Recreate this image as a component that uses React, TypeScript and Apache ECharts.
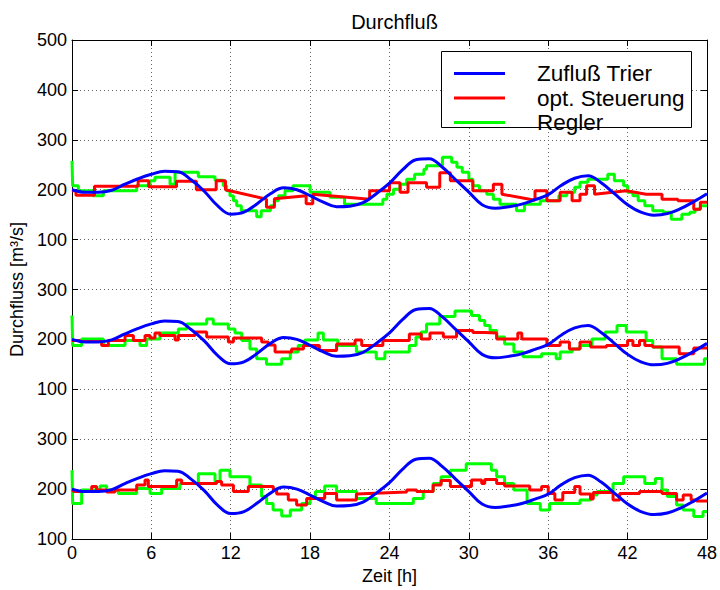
import React, { useEffect, useRef } from 'react';
import * as echarts from 'echarts';

// ---- data ----
const HOURS = [0,1,2,3,4,5,6,7,8,9,10,11,12,13,14,15,16,17,18,19,20,21,22,23,24,25,26,27,28,29,30,31,32,33,34,35,36,37,38,39,40,41,42,43,44,45,46,47,48];
// Zufluß Trier (hourly, m³/s) – same curve in all three panels
const ZUFLUSS = [200,195,195,199,211,222,231,237,236,220,197,168,151,155,172,192,204,200,188,175,166,167,174,192,213,240,260,262,245,220,195,170,163,166,171,180,190,209,223,228,214,192,170,155,149,152,162,176,192];

// step series: [start hour, value, optional end value (sloped segment)]
const RED_TOP = [[0,198],[0.3,189],[1.7,207],[5.0,218],[5.8,206],[7.9,217],[9.4,200],[10.9,218],[11.6,200,181],[14.7,165],[15.3,182,188],[17.7,172],[18.2,191,181],[22.5,198],[24.0,214],[24.8,195],[25.4,214],[26.8,205],[27.8,234],[28.6,218],[30.3,198],[31.85,211],[32.5,191,179],[35.0,198],[35.9,178],[36.9,195],[37.8,178],[38.4,191],[38.9,208],[39.5,191,198],[41.9,198,191],[43.4,191],[44.6,181],[45.8,178],[47.0,161],[47.5,175]];
const GREEN_TOP = [[0,258],[0.05,208],[0.48,198],[1.61,188],[2.37,198],[4.89,208],[5.9,218],[6.27,225],[7.41,211],[7.79,235],[9.55,226],[10.81,219],[11.44,208],[11.69,198],[11.94,188],[12.2,178],[12.45,168],[12.8,158],[13.96,146],[14.3,158],[15.0,168],[15.3,178],[15.6,188],[16.1,198],[16.7,208],[18.0,195],[19.5,185],[20.6,171],[23.5,181],[23.8,191],[24.3,201],[24.8,211],[25.3,221],[25.9,231],[26.6,241],[26.8,248],[28.0,265],[28.7,255],[29.1,245],[29.5,235],[30.0,221],[30.3,208],[30.8,198],[31.35,191],[31.85,181],[32.35,171],[33.6,158],[34.2,171],[35.4,178],[36.8,188],[37.4,195],[38.0,205],[38.4,215],[39.0,221],[40.5,231],[41.0,218],[41.7,208],[42.0,195],[42.4,188],[42.8,178],[43.3,168],[43.9,158],[44.7,155],[45.3,141],[46.1,151],[46.7,155],[47.1,161],[47.5,168]];

const RED_MID = [[0,198],[0.6,196],[2.24,188],[2.75,198],[4.01,208],[4.64,198],[5.52,208],[5.9,203],[6.27,213],[6.65,208],[7.79,199],[8.04,208],[9.3,215],[10.18,205],[11.82,195],[12.2,203],[14.34,195],[14.84,189],[15.35,175],[16.6,181],[17.5,188],[18.7,178],[20.0,191],[21.4,199],[21.9,188],[23.5,198],[25.5,211],[26.4,201],[27.06,213],[28.07,205],[29.07,218],[30.3,214],[31.2,213],[32.1,201],[33.7,213],[34.0,201],[35.9,188],[36.9,195],[37.6,181],[38.4,195],[39.2,185],[40.4,188],[42.0,198],[42.4,188],[42.9,198],[43.3,188],[43.9,185],[45.9,171],[47.0,183]];
const GREEN_MID = [[0,248],[0.05,188],[0.73,201],[2.37,188],[4.01,198],[5.14,188],[5.64,201],[6.65,213],[8.04,221],[8.67,231],[10.18,241],[10.68,231],[11.82,221],[12.32,213],[12.83,198],[13.45,181],[13.96,161],[14.7,150],[15.85,161],[16.5,175],[17.1,188],[17.6,199],[18.6,213],[19.0,199],[20.1,188],[21.5,175],[23.0,161],[23.65,175],[25.5,188],[26.0,205],[26.4,215],[26.8,231],[27.8,246],[28.95,257],[30.2,248],[30.8,238],[31.2,228],[31.6,218],[32.1,205],[32.7,191],[33.4,175],[34.1,165],[35.5,171],[36.6,161],[36.9,175],[37.8,181],[38.4,188],[39.3,201],[40.3,215],[41.2,228],[41.9,215],[43.4,198],[43.9,185],[44.6,161],[45.7,150],[47.8,161]];

const RED_BOT = [[0,198],[0.1,195],[1.49,205],[1.86,198],[2.62,194],[3.25,198],[4.89,208],[5.52,218],[5.77,205],[7.91,218],[8.29,211],[10.93,215],[11.31,208],[12.2,195],[13.33,205],[14.21,205],[15.22,198],[15.47,190],[16.35,178],[16.98,168],[17.74,181],[19.1,191],[20.0,178],[21.5,190,194],[25.3,198],[26.05,195],[27.3,208],[27.9,217],[28.6,205],[30.2,218],[30.97,211],[31.2,219],[32.1,211],[32.7,206],[34.6,198],[35.5,205],[36.0,191],[36.5,178],[37.1,193],[38.0,205],[38.4,190],[39.2,180],[39.4,193],[40.9,178],[41.4,191],[42.9,195],[44.6,191],[45.7,178],[46.2,188],[46.8,178],[47.2,176]];
const GREEN_BOT = [[0,238],[0.05,171],[0.73,198],[2.12,206],[2.62,198],[3.5,191],[4.89,201],[5.9,191],[6.78,201],[8.16,211],[9.55,231],[10.81,215],[11.19,238],[11.94,225],[13.45,208],[14.33,185],[14.71,171],[15.2,158],[15.85,146],[16.5,158],[17.36,171],[18.0,181],[18.4,195],[19.1,206],[20.0,195],[21.5,181],[23.0,171],[25.8,181],[26.55,195],[27.3,211],[27.9,225],[28.6,238],[29.8,251],[31.7,238],[32.1,225],[32.7,211],[33.4,198],[34.4,171],[35.4,158],[36.1,171],[38.4,178],[39.2,188],[39.7,195],[40.9,211],[41.7,225],[43.3,211],[44.1,221],[44.6,198],[45.0,185],[45.7,168],[46.2,158],[47.0,145],[47.7,155]];

// vertical offsets of the three stacked panels on the common axis
const PANEL_OFFSETS = [500, 200, -100];
const RED_PANELS = [RED_TOP, RED_MID, RED_BOT];
const GREEN_PANELS = [GREEN_TOP, GREEN_MID, GREEN_BOT];
const Y_TICK_LABELS = ['100','200','300','100','200','300','100','200','300','400','500'];
const X_MIN = 0, X_MAX = 48, X_STEP = 6;

const NAMES = ['Zufluß Trier', 'opt. Steuerung', 'Regler'];
const COLORS = ['#0000ff', '#ff0000', '#00ff00'];

function stairPoints(bps: number[][], offset: number) {
  const pts: number[][] = [];
  for (let i = 0; i < bps.length; i++) {
    const [t, v, ve] = bps[i];
    const tn = i + 1 < bps.length ? bps[i + 1][0] : X_MAX;
    pts.push([t, v + offset]);
    pts.push([tn, (ve === undefined ? v : ve) + offset]);
  }
  return pts;
}

export default function App() {
  const ref = useRef<HTMLDivElement>(null);
  useEffect(() => {
    const chart = echarts.init(ref.current!, null, { renderer: 'svg' });
    const font = "'Liberation Sans', Arial, Helvetica, sans-serif";
    const series: any[] = [];
    PANEL_OFFSETS.forEach((off, p) => {
      series.push({
        name: NAMES[2], type: 'line', z: 2, showSymbol: false, silent: true,
        data: stairPoints(GREEN_PANELS[p], off),
        lineStyle: { color: COLORS[2], width: 3 }, itemStyle: { color: COLORS[2] },
      });
      series.push({
        name: NAMES[1], type: 'line', z: 3, showSymbol: false, silent: true,
        data: stairPoints(RED_PANELS[p], off),
        lineStyle: { color: COLORS[1], width: 3 }, itemStyle: { color: COLORS[1] },
      });
      series.push({
        name: NAMES[0], type: 'line', z: 4, showSymbol: false, silent: true, smooth: 0.4,
        data: HOURS.map((h, i) => [h, ZUFLUSS[i] + off]),
        lineStyle: { color: COLORS[0], width: 3 }, itemStyle: { color: COLORS[0] },
      });
    });

    const axisLine = { show: true, onZero: false, lineStyle: { color: '#000', width: 1 } };
    const tick = { show: true, inside: true, length: 6, lineStyle: { color: '#000' } };
    const grid = { show: true, lineStyle: { color: '#666', width: 1, type: [1, 3] } };

    chart.setOption({
      animation: false,
      backgroundColor: '#fff',
      title: {
        text: 'Durchfluß', left: 389.5, top: 7, textAlign: 'center',
        textStyle: { fontFamily: font, fontSize: 20, fontWeight: 'normal', color: '#000' },
      },
      grid: { left: 72, right: 13, top: 40, bottom: 51 },
      legend: {
        data: NAMES, orient: 'vertical', left: 454, top: 62, z: 6, padding: 0,
        icon: 'rect', itemWidth: 51, itemHeight: 3, itemGap: 1.5,
        selectedMode: false,
        textStyle: { fontFamily: font, fontSize: 22.5, color: '#000', lineHeight: 22, padding: [0, 0, 0, 27] },
      },
      graphic: [{
        type: 'rect', z: 5,
        shape: { x: 441.5, y: 51.5, width: 250, height: 76 },
        style: { fill: '#fff', stroke: '#000', lineWidth: 1 },
      }],
      xAxis: [
        {
          type: 'value', position: 'bottom', min: X_MIN, max: X_MAX, interval: X_STEP,
          name: 'Zeit [h]', nameLocation: 'middle', nameGap: 23,
          nameTextStyle: { fontFamily: font, fontSize: 18, color: '#000' },
          axisLine, axisTick: tick, splitLine: grid,
          axisLabel: { fontFamily: font, fontSize: 18, color: '#000', margin: 5 },
        },
        {
          type: 'value', position: 'top', min: X_MIN, max: X_MAX, interval: X_STEP,
          axisLine, axisTick: tick, splitLine: { show: false }, axisLabel: { show: false },
        },
      ],
      yAxis: [
        {
          type: 'value', position: 'left', min: 0, max: 1000, interval: 100,
          name: 'Durchfluss [m³/s]', nameLocation: 'middle', nameGap: 36,
          nameTextStyle: { fontFamily: font, fontSize: 18, color: '#000' },
          axisLine, axisTick: tick, splitLine: grid,
          axisLabel: {
            fontFamily: font, fontSize: 18, color: '#000', margin: 5,
            formatter: (v: number) => Y_TICK_LABELS[Math.round(v / 100)],
          },
        },
        {
          type: 'value', position: 'right', min: 0, max: 1000, interval: 100,
          axisLine, axisTick: tick, splitLine: { show: false }, axisLabel: { show: false },
        },
      ],
      series,
    });
    return () => chart.dispose();
  }, []);
  return <div ref={ref} style={{ position: 'fixed', left: 0, top: 0, width: 720, height: 590, background: '#fff' }} />;
}
